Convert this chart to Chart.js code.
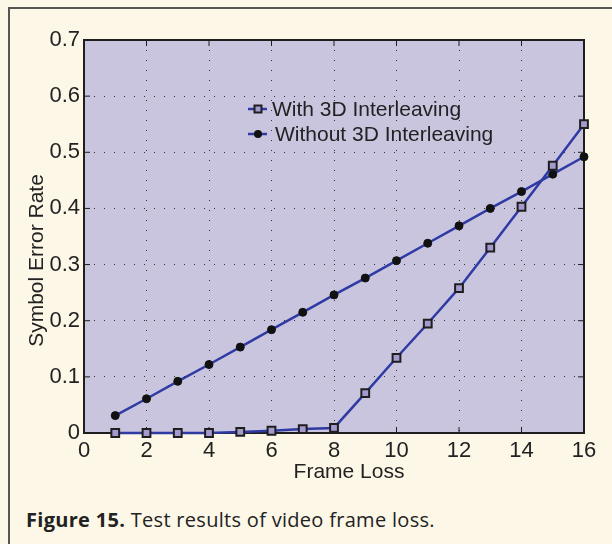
<!DOCTYPE html>
<html>
<head>
<meta charset="utf-8">
<script src="https://cdn.jsdelivr.net/npm/chart.js@4.4.1/dist/chart.umd.min.js"></script>
<style>
  html, body { margin: 0; padding: 0; background: #fdf7e7; width: 612px; height: 544px; overflow: hidden; }
  #frame { position: absolute; left: 8px; top: 7px; width: 604px; height: 537px; border-left: 2px solid #555; border-top: 2px solid #555; box-sizing: border-box; }
  #wrap { position: absolute; left: 0; top: 0; width: 612px; height: 490px; }
  #caption { position: absolute; left: 26px; top: 506px; line-height: 27px; font-family: "Open Sans", sans-serif; font-size: 20px; letter-spacing: 0.3px; color: #222; white-space: nowrap; }
</style>
</head>
<body>
<div id="frame"></div>
<div id="wrap"><canvas id="chart"></canvas></div>
<div id="caption"><b>Figure 15.</b> Test results of video frame loss.</div>
<script>
// data
const frameLoss = [1, 2, 3, 4, 5, 6, 7, 8, 9, 10, 11, 12, 13, 14, 15, 16]
const withInterleaving = [0, 0, 0, 0, 0.002, 0.004, 0.007, 0.009, 0.071, 0.134, 0.195, 0.258, 0.330, 0.403, 0.476, 0.550]
const withoutInterleaving = [0.031, 0.061, 0.092, 0.122, 0.153, 0.184, 0.215, 0.246, 0.276, 0.307, 0.338, 0.369, 0.400, 0.430, 0.461, 0.492]
const seriesNames = ["With 3D Interleaving", "Without 3D Interleaving"]
const xTicks = [0, 2, 4, 6, 8, 10, 12, 14, 16]
const yTicks = [0, 0.1, 0.2, 0.3, 0.4, 0.5, 0.6, 0.7]
const xTitle = 'Frame Loss'
const yTitle = 'Symbol Error Rate'

const lineColor = '#2f3aa3'
const plotBg = '#c9c5df'
const textColor = '#222'
const fontFamily = '"Liberation Sans", Arial, sans-serif'

const toPoints = (ys) => frameLoss.map((x, i) => ({ x: x, y: ys[i] }))

// lavender plot area, box, inward ticks and axis titles
const plotBox = {
    id: 'plotBox',
    beforeDraw(chart) {
        const { ctx, chartArea: a } = chart
        ctx.save()
        ctx.fillStyle = plotBg
        ctx.fillRect(a.left, a.top, a.right - a.left, a.bottom - a.top)
        ctx.restore()
    },
    beforeDatasetsDraw(chart) {
        const { ctx, chartArea: a, scales } = chart
        ctx.save()
        ctx.strokeStyle = '#1e1e1e'
        ctx.lineWidth = 1
        ctx.beginPath()
        xTicks.forEach(v => {
            const px = scales.x.getPixelForValue(v)
            ctx.moveTo(px, a.bottom); ctx.lineTo(px, a.bottom - 6)
            ctx.moveTo(px, a.top); ctx.lineTo(px, a.top + 6)
        })
        yTicks.forEach(v => {
            const py = scales.y.getPixelForValue(v)
            ctx.moveTo(a.left, py); ctx.lineTo(a.left + 6, py)
            ctx.moveTo(a.right, py); ctx.lineTo(a.right - 6, py)
        })
        ctx.stroke()
        ctx.lineWidth = 2
        ctx.strokeRect(a.left, a.top, a.right - a.left, a.bottom - a.top)

        // axis titles, a little off-centre as in the original
        ctx.fillStyle = textColor
        ctx.font = '21px ' + fontFamily
        ctx.textAlign = 'center'
        ctx.textBaseline = 'middle'
        ctx.fillText(xTitle, (a.left + a.right) / 2 + 15, a.bottom + 39)
        ctx.translate(a.left - 47, (a.top + a.bottom) / 2 + 24)
        ctx.rotate(-Math.PI / 2)
        ctx.fillText(yTitle, 0, 0)
        ctx.restore()
    }
}

// legend drawn inside the plot, like the original
const innerLegend = {
    id: 'innerLegend',
    afterDraw(chart) {
        const { ctx, chartArea: a } = chart
        ctx.save()
        ctx.font = '21px ' + fontFamily
        ctx.textBaseline = 'middle'
        chart.data.datasets.forEach((ds, i) => {
            const y = a.top + 69 + i * 25
            const x0 = a.left + 164
            ctx.strokeStyle = ds.borderColor
            ctx.lineWidth = 2.5
            ctx.beginPath()
            ctx.moveTo(x0, y); ctx.lineTo(x0 + 19, y)
            ctx.stroke()
            const cx = x0 + 10
            if (ds.pointStyle === 'rect') {
                ctx.fillStyle = ds.pointBackgroundColor
                ctx.strokeStyle = ds.pointBorderColor
                ctx.lineWidth = 2
                ctx.fillRect(cx - 3.5, y - 3.5, 7, 7)
                ctx.strokeRect(cx - 3.5, y - 3.5, 7, 7)
            } else {
                ctx.fillStyle = ds.pointBackgroundColor
                ctx.beginPath()
                ctx.arc(cx, y, 4, 0, Math.PI * 2)
                ctx.fill()
            }
            ctx.fillStyle = textColor
            ctx.fillText(ds.label, x0 + 24 + i * 3, y + 1)
        })
        ctx.restore()
    }
}

new Chart(document.getElementById('chart'), {
    type: 'line',
    data: {
        datasets: [
            {
                label: seriesNames[0],
                data: toPoints(withInterleaving),
                borderColor: lineColor,
                borderWidth: 2.5,
                pointStyle: 'rect',
                pointRadius: 5.5,
                pointBorderWidth: 2,
                pointBackgroundColor: '#a49ad0',
                pointBorderColor: '#1e1e1e',
                clip: false
            },
            {
                label: seriesNames[1],
                data: toPoints(withoutInterleaving),
                borderColor: lineColor,
                borderWidth: 2.5,
                pointStyle: 'circle',
                pointRadius: 4,
                pointBorderWidth: 1,
                pointBackgroundColor: '#111',
                pointBorderColor: '#111',
                clip: false
            }
        ]
    },
    options: {
        responsive: true,
        maintainAspectRatio: false,
        animation: false,
        layout: { padding: { left: 0, top: 40, right: 28, bottom: 7 } },
        plugins: {
            legend: { display: false },
            tooltip: { enabled: false }
        },
        scales: {
            x: {
                type: 'linear',
                min: 0,
                max: 16,
                afterBuildTicks: (s) => { s.ticks = xTicks.map(v => ({ value: v })) },
                afterFit: (s) => { s.height = 50 },
                ticks: { color: textColor, padding: 5, maxRotation: 0, font: { family: fontFamily, size: 22 } },
                grid: { color: '#333', lineWidth: 1, drawTicks: false },
                border: { display: false, dash: [1, 9] }
            },
            y: {
                min: 0,
                max: 0.7,
                afterBuildTicks: (s) => { s.ticks = yTicks.map(v => ({ value: v })) },
                afterFit: (s) => { s.width = 84 },
                ticks: { color: textColor, padding: 4, font: { family: fontFamily, size: 22 }, callback: (v) => String(Math.round(v * 10) / 10) },
                grid: { color: '#333', lineWidth: 1, drawTicks: false },
                border: { display: false, dash: [1, 9] }
            }
        }
    },
    plugins: [plotBox, innerLegend]
})
</script>
</body>
</html>
